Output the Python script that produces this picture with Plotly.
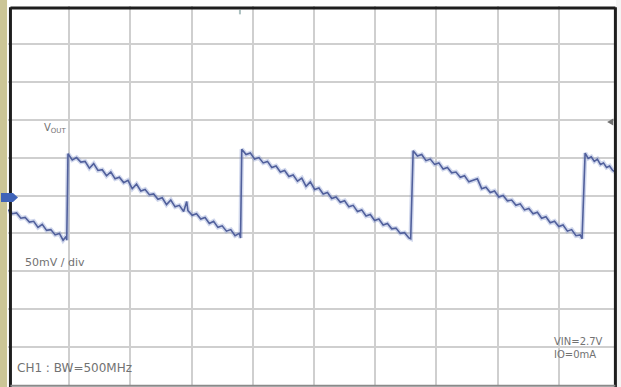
import plotly.graph_objects as go

# Oscilloscope capture of V_OUT ripple: time in divisions, voltage in mV (50 mV/div)
t_ramp0 = [0.00, 0.07, 0.14, 0.21, 0.28, 0.35, 0.42, 0.49, 0.56, 0.63, 0.70, 0.77, 0.84, 0.90, 0.95, 0.96]
v_ramp0 = [-19, -24, -23, -30, -29, -35, -34, -42, -38, -46, -45, -52, -50, -59, -54, -59]

t_ramp1 = [0.98, 1.05, 1.12, 1.19, 1.26, 1.33, 1.40, 1.47, 1.54, 1.61, 1.68, 1.75, 1.82, 1.89,
           1.96, 2.03, 2.10, 2.17, 2.24, 2.31, 2.38, 2.45, 2.52, 2.59, 2.66, 2.73, 2.80, 2.87,
           2.92, 2.94, 3.01, 3.08, 3.15, 3.22, 3.29, 3.36, 3.43, 3.50, 3.57, 3.64, 3.71, 3.78, 3.80]
v_ramp1 = [55, 47, 50, 44, 45, 36, 42, 33, 34, 26, 31, 22, 24, 17,
           20, 9, 15, 6, 8, 1, 2, -5, -3, -12, -6, -15, -13, -21,
           -8, -20, -26, -24, -31, -29, -37, -34, -42, -40, -47, -45, -53, -50, -56]

t_ramp2 = [3.82, 3.89, 3.96, 4.03, 4.10, 4.17, 4.24, 4.31, 4.38, 4.45, 4.52, 4.59, 4.66, 4.73,
           4.80, 4.87, 4.94, 5.01, 5.08, 5.15, 5.22, 5.29, 5.36, 5.43, 5.50, 5.57, 5.64, 5.71,
           5.78, 5.85, 5.92, 5.99, 6.06, 6.13, 6.20, 6.27, 6.34, 6.41, 6.48, 6.55, 6.58]
v_ramp2 = [61, 54, 56, 48, 50, 43, 45, 37, 39, 31, 33, 25, 27, 19,
           23, 12, 18, 8, 10, 2, 4, -4, -2, -9, -7, -15, -13, -21,
           -19, -27, -25, -33, -31, -39, -37, -44, -43, -50, -49, -56, -57]

t_ramp3 = [6.62, 6.69, 6.76, 6.83, 6.90, 6.97, 7.04, 7.11, 7.18, 7.25, 7.32, 7.39, 7.46, 7.53,
           7.60, 7.67, 7.74, 7.81, 7.88, 7.95, 8.02, 8.09, 8.16, 8.23, 8.30, 8.37, 8.44, 8.51,
           8.58, 8.65, 8.72, 8.79, 8.86, 8.93, 9.00, 9.07, 9.14, 9.21, 9.28, 9.35, 9.38]
v_ramp3 = [59, 52, 54, 46, 48, 41, 43, 35, 37, 30, 31, 24, 26, 18,
           20, 22, 9, 11, 4, 6, -2, 0, -7, -6, -13, -11, -19, -17,
           -24, -22, -30, -28, -36, -34, -41, -39, -47, -45, -53, -52, -57]

t_ramp4 = [9.43, 9.48, 9.53, 9.58, 9.63, 9.68, 9.73, 9.78, 9.83, 9.88, 9.95]
v_ramp4 = [56, 49, 51, 45, 48, 41, 43, 37, 39, 33, 30]

t_trace = t_ramp0 + t_ramp1 + t_ramp2 + t_ramp3 + t_ramp4
v_trace = v_ramp0 + v_ramp1 + v_ramp2 + v_ramp3 + v_ramp4

TEXT = "#727272"
FONT = "DejaVu Sans"

fig = go.Figure()
# soft glow of the phosphor trace
fig.add_trace(go.Scatter(x=t_trace, y=v_trace, mode="lines", hoverinfo="skip",
                         line=dict(color="rgba(120,140,200,0.35)", width=4.5)))
# trace core
fig.add_trace(go.Scatter(x=t_trace, y=v_trace, mode="lines", hoverinfo="skip",
                         line=dict(color="#51609c", width=1.6)))

shapes = [
    # khaki strip at the far left of the window
    dict(type="rect", xref="paper", yref="paper", x0=-0.02, x1=-0.0015, y0=-0.01, y1=1.02,
         fillcolor="#cbc596", line_width=0, layer="above"),
    # blank strip right of the screen frame
    dict(type="rect", xref="paper", yref="paper", x0=0.9935, x1=1.01, y0=-0.01, y1=1.02,
         fillcolor="#f4f4f4", line_width=0, layer="above"),
    # screen frame
    dict(type="line", xref="paper", yref="paper", x0=0.004, x1=0.004, y0=-0.01, y1=0.997,
         line=dict(color="#1e1e1e", width=3), layer="above"),
    dict(type="line", xref="paper", yref="paper", x0=0.004, x1=0.9925, y0=0.995, y1=0.995,
         line=dict(color="#1e1e1e", width=3), layer="above"),
    dict(type="line", xref="paper", yref="paper", x0=0.9925, x1=0.9925, y0=-0.01, y1=0.997,
         line=dict(color="#1e1e1e", width=3), layer="above"),
    dict(type="line", xref="paper", yref="paper", x0=0.004, x1=0.9925, y0=-0.002, y1=-0.002,
         line=dict(color="#8a8a8a", width=2), layer="above"),
    # channel ground marker
    dict(type="path", xref="paper", yref="paper",
         path="M -0.0114 0.5066 L 0.0082 0.5066 L 0.0163 0.4947 L 0.0082 0.4828 L -0.0114 0.4828 Z",
         fillcolor="#3f63b8", line_width=0, layer="above"),
    # trigger level marker
    dict(type="path", xref="paper", yref="paper",
         path="M 0.979 0.694 L 0.989 0.703 L 0.989 0.685 Z",
         fillcolor="#707070", line_width=0, layer="above"),
    # trigger position marker
    dict(type="line", xref="paper", yref="paper", x0=0.379, x1=0.379, y0=0.978, y1=0.99,
         line=dict(color="rgba(90,130,130,0.5)", width=2), layer="above"),
]

annotations = [
    dict(x=0.56, y=89, xref="x", yref="y", text="V<sub>OUT</sub>", showarrow=False,
         xanchor="left", yanchor="middle", font=dict(family=FONT, size=10, color=TEXT)),
    dict(x=0.245, y=-88, xref="x", yref="y", text="50mV / div", showarrow=False,
         xanchor="left", yanchor="middle", font=dict(family=FONT, size=11, color=TEXT)),
    dict(x=0.114, y=-228, xref="x", yref="y", text="CH1 : BW=500MHz", showarrow=False,
         xanchor="left", yanchor="middle", font=dict(family=FONT, size=12, color=TEXT)),
    dict(x=8.89, y=-201, xref="x", yref="y", text="VIN=2.7V<br>IO=0mA", showarrow=False,
         align="left", xanchor="left", yanchor="middle",
         font=dict(family=FONT, size=10, color=TEXT)),
]

axis_common = dict(showticklabels=False, ticks="", zeroline=False, showline=False,
                   showgrid=True, gridcolor="#cfcfcf", gridwidth=1.6, fixedrange=True)

fig.update_layout(
    width=621, height=387,
    margin=dict(l=8, r=1, t=6, b=2),
    paper_bgcolor="white", plot_bgcolor="white",
    showlegend=False,
    xaxis=dict(range=[0, 10], dtick=1, tick0=0, **axis_common),
    yaxis=dict(range=[-250, 250], dtick=50, tick0=0, **axis_common),
    shapes=shapes,
    annotations=annotations,
)

fig.write_html("out.html", config={"displayModeBar": False})
